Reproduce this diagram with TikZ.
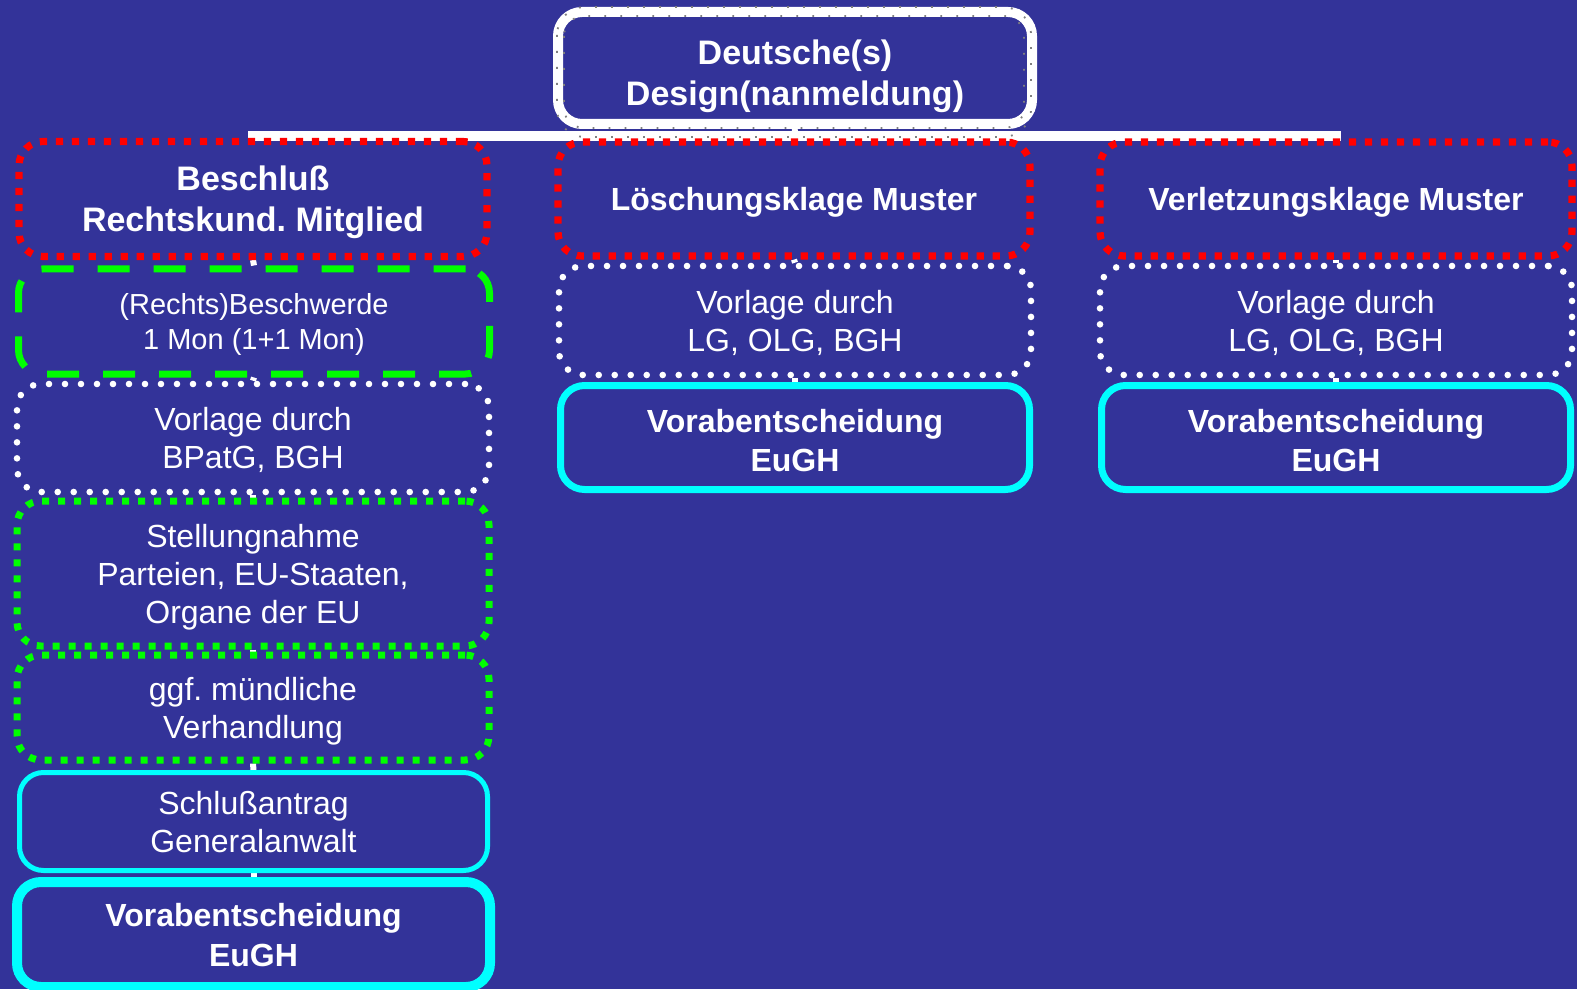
\documentclass[tikz,border=0pt]{standalone}
\usepackage{fontspec}
\setmainfont{Liberation Sans}
\frenchspacing
\definecolor{bg}{RGB}{51,51,153}
\definecolor{gr}{RGB}{0,255,0}
\definecolor{cy}{RGB}{0,255,255}
\definecolor{rd}{RGB}{255,0,0}
\pgfdeclarelayer{bgfill}
\pgfdeclarelayer{back}
\pgfsetlayers{bgfill,back,main}
\newcommand{\lowr}[1]{\raisebox{-5pt}{#1}}
\newcommand{\lowq}[1]{\raisebox{-3pt}{#1}}
\begin{document}
\begin{tikzpicture}[x=0.5pt,y=-0.5pt,
  box/.style={rounded corners=12pt, inner sep=0pt, align=center, text=white, text depth=0pt},
  bold/.style={font=\fontsize{17}{20.5}\selectfont\bfseries},
  boldb/.style={font=\fontsize{16}{19.5}\selectfont\bfseries},
  norm/.style={font=\fontsize{16}{19}\selectfont},
  small/.style={font=\fontsize{14.5}{17.5}\selectfont},
  reddot/.style={draw=rd, line width=3.6pt, dash pattern=on 3.6pt off 4.4pt},
  greendot/.style={draw=gr, line width=3.5pt, dash pattern=on 3.5pt off 4.5pt},
  greendash/.style={draw=gr, line width=3.5pt, dash pattern=on 16pt off 12pt},
  whitedot/.style={draw=white, line width=3.3pt, line cap=round, dash pattern=on 0pt off 8pt},
  cythin/.style={draw=cy, line width=2.5pt},
  cymid/.style={draw=cy, line width=3.5pt},
  cythick/.style={draw=cy, line width=5pt},
  conn/.style={draw=white, line width=3pt},
  bus/.style={draw=white, line width=5pt, line cap=rect},
  greyline/.style={draw=gray, line width=0.9pt, dash pattern=on 0.9pt off 7.1pt}
]
\begin{pgfonlayer}{bgfill}
\fill[bg] (0,0) rectangle (1577,989);
\end{pgfonlayer}
\useasboundingbox (0,0) rectangle (1577,989);

% top box
\node[box, bold, draw=white, line width=5pt, minimum width=237pt, minimum height=56pt] (T) at (795,68) {\lowr{Deutsche(s)}\\\lowr{Design(nanmeldung)}};

% left column
\node[box, bold, reddot, minimum width=234pt, minimum height=57.5pt] (L1) at (253,199) {Beschluß\\Rechtskund. Mitglied};
\node[box, small, greendash, minimum width=235.5pt, minimum height=52.5pt] (L2) at (254,321.5) {(Rechts)Beschwerde\\1 Mon (1+1 Mon)};
\node[box, norm, whitedot, minimum width=236pt, minimum height=54pt] (L3) at (253,438) {Vorlage durch\\BPatG, BGH};
\node[box, norm, greendot, minimum width=236pt, minimum height=72.5pt] (L4) at (253,573.5) {Stellungnahme\\Parteien, EU-Staaten,\\Organe der EU};
\node[box, norm, greendot, minimum width=236pt, minimum height=52.5pt] (L5) at (253,707.5) {ggf. mündliche\\Verhandlung};
\node[box, norm, cythin, minimum width=234pt, minimum height=49pt] (L6) at (253.5,821.5) {Schlußantrag\\Generalanwalt};
\node[box, cythick, minimum width=236.5pt, minimum height=52.5pt, font=\fontsize{16}{20}\selectfont\bfseries] (L7) at (253.5,934.5) {Vorabentscheidung\\EuGH};

% middle column
\node[box, boldb, reddot, minimum width=236pt, minimum height=57pt] (M1) at (794,199) {Löschungsklage Muster};
\node[box, norm, whitedot, minimum width=236pt, minimum height=54.5pt] (M2) at (795,320.5) {Vorlage durch\\LG, OLG, BGH};
\node[box, boldb, cymid, minimum width=234.5pt, minimum height=52pt] (M3) at (795,437.5) {\lowq{Vorabentscheidung}\\\lowq{EuGH}};

% right column
\node[box, boldb, reddot, minimum width=236pt, minimum height=57pt] (R1) at (1336,199) {Verletzungsklage Muster};
\node[box, norm, whitedot, minimum width=236pt, minimum height=54.5pt] (R2) at (1336,320.5) {Vorlage durch\\LG, OLG, BGH};
\node[box, boldb, cymid, minimum width=234.5pt, minimum height=52pt] (R3) at (1336,437.5) {\lowq{Vorabentscheidung}\\\lowq{EuGH}};

% connectors behind the boxes
\begin{pgfonlayer}{back}
\coordinate (busy) at (0,136);
\path[bus] (L1.center |- busy) -- (R1.center |- busy);
\path[conn] (T.south) -- (M1.north);
\path[conn] (L1.south) -- (L2.north);
\path[conn] (L2.south) -- (L3.north);
\path[conn] (L3.south) -- (L4.north);
\path[conn] (L4.south) -- (L5.north);
\path[conn] (L5.south) -- (L6.north);
\path[conn] (L6.south) -- (L7.north);
\path[conn] (M1.south) -- (M2.north);
\path[conn] (M2.south) -- (M3.north);
\path[conn] (R1.south) -- (R2.north);
\path[conn] (R2.south) -- (R3.north);
\end{pgfonlayer}

% grey dotted outline of top box
\path[greyline, rounded corners=14pt] (557,7) rectangle (1031,137);
\path[greyline, rounded corners=10pt] (564,16) rectangle (1024,128);
\end{tikzpicture}
\end{document}
